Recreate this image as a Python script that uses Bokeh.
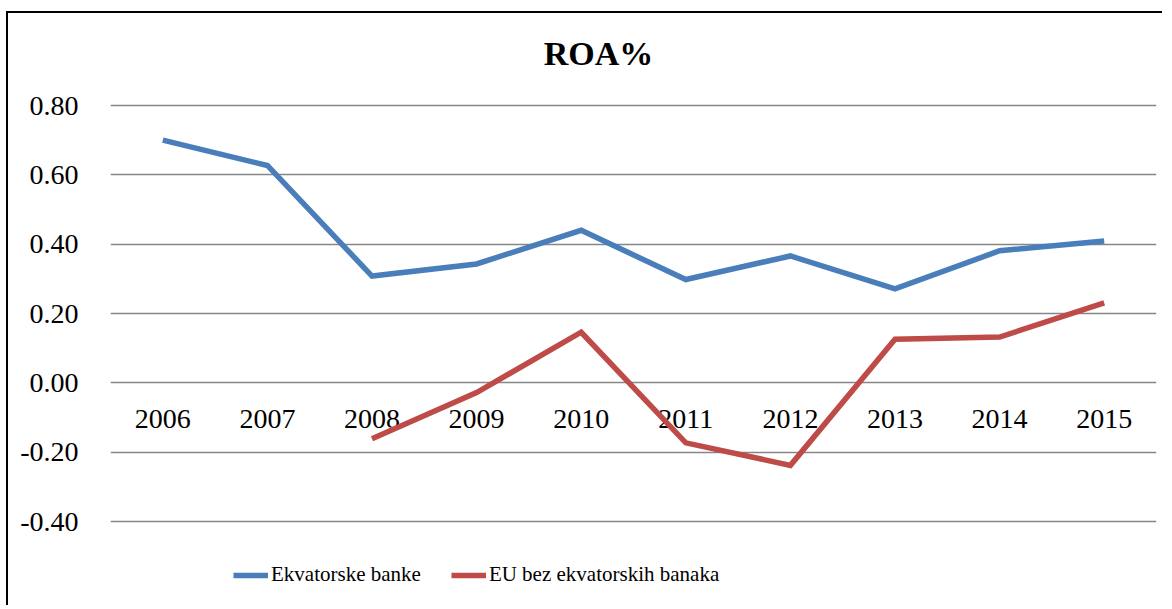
from bokeh.plotting import figure
from bokeh.models import ColumnDataSource, FixedTicker, NumeralTickFormatter, Legend, LegendItem, Range1d, FactorRange, Label
from bokeh.core.properties import value
from bokeh.embed import file_html
from bokeh.resources import INLINE

years = ["2006", "2007", "2008", "2009", "2010", "2011", "2012", "2013", "2014", "2015"]
ekvatorske = [0.70, 0.627, 0.308, 0.343, 0.440, 0.298, 0.366, 0.271, 0.381, 0.409]
eu_years = ["2008", "2009", "2010", "2011", "2012", "2013", "2014", "2015"]
eu_bez = [-0.161, -0.028, 0.146, -0.173, -0.238, 0.126, 0.132, 0.231]
y_ticks = [-0.4, -0.2, 0.0, 0.2, 0.4, 0.6, 0.8]
title_text = "ROA%"

SERIF = "Liberation Serif"

p = figure(
    width=1156, height=594,
    x_range=FactorRange(*years, range_padding=0),
    y_range=Range1d(-0.6480, 1.0654),
    output_backend="svg", toolbar_location=None,
    min_border_left=102, min_border_right=8, min_border_top=0, min_border_bottom=0,
)
p.styles = {"margin-left": "6px", "margin-top": "11px",
            "border-left": "2px solid black", "border-top": "2px solid black"}
p.outline_line_color = None
p.background_fill_color = "white"
p.border_fill_color = "white"

p.add_layout(Label(x=488, y=594 - 40, x_units="screen", y_units="screen", text=title_text,
                   text_font=SERIF, text_font_size="34px", text_font_style="bold",
                   text_color="black", text_align="center", text_baseline="alphabetic"))

p.xaxis.visible = False
p.xgrid.visible = False

yax = p.yaxis[0]
yax.ticker = FixedTicker(ticks=y_ticks)
yax.formatter = NumeralTickFormatter(format="0.00")
yax.axis_line_color = None
yax.major_tick_line_color = None
yax.minor_tick_line_color = None
yax.major_label_standoff = 26
yax.major_label_text_font = SERIF
yax.major_label_text_font_size = "28px"
yax.major_label_text_color = "black"

p.ygrid.ticker = FixedTicker(ticks=y_ticks)
p.ygrid.grid_line_color = "#868686"
p.ygrid.grid_line_width = 1.6

lab_src = ColumnDataSource(dict(x=years, y=[0.0] * len(years), t=years))
p.text(x="x", y="y", text="t", source=lab_src, text_font=value(SERIF), text_font_size="28px",
       text_color="black", text_align="center", text_baseline="middle", y_offset=36)

s1 = ColumnDataSource(dict(x=years, y=ekvatorske))
s2 = ColumnDataSource(dict(x=eu_years, y=eu_bez))
r1 = p.line("x", "y", source=s1, line_color="#4A7EBB", line_width=5.5, line_join="miter")
r2 = p.line("x", "y", source=s2, line_color="#BE4B48", line_width=5.5, line_join="miter")

legend = Legend(
    items=[LegendItem(label="Ekvatorske banke", renderers=[r1]),
           LegendItem(label="EU bez ekvatorskih banaka", renderers=[r2])],
    orientation="horizontal",
    location=(123, 20),
    padding=0, margin=0, spacing=30,
    glyph_width=35, glyph_height=20, label_standoff=3,
    label_text_font=SERIF, label_text_font_size="21px", label_text_color="black",
    border_line_color=None, background_fill_alpha=0,
)
p.add_layout(legend, "center")

open("out.html", "w").write(file_html(p, INLINE))
